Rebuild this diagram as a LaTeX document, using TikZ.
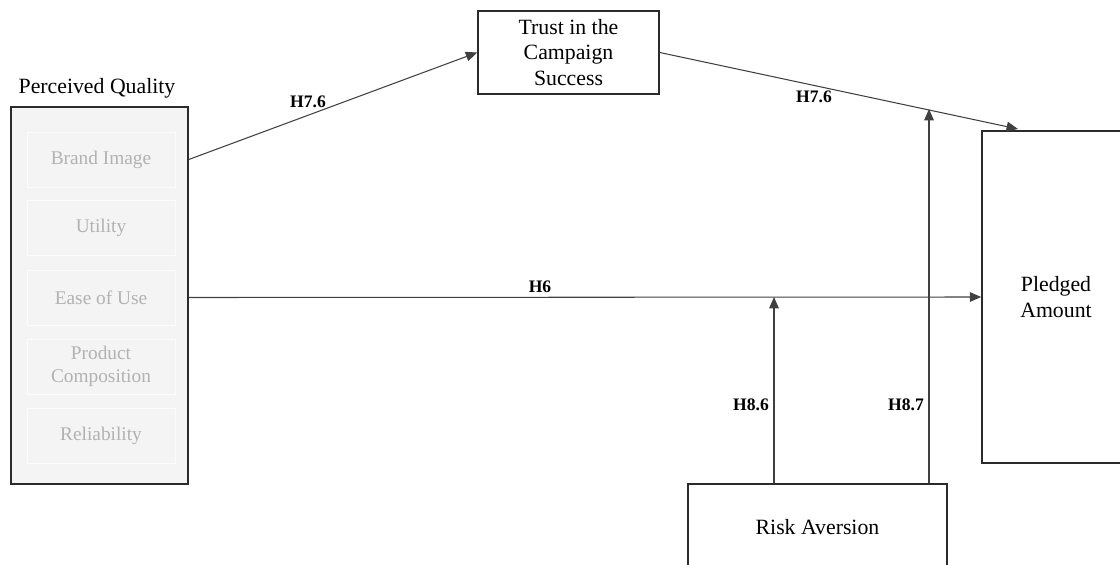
\documentclass[tikz,border=0pt]{standalone}
\usepackage{fontspec}
\setmainfont{Liberation Serif}
\usetikzlibrary{arrows.meta}
\definecolor{qualfill}{HTML}{F4F4F4}
\definecolor{itemgray}{HTML}{B2B2B2}
\definecolor{boxline}{HTML}{2B2B2B}
\definecolor{arrowline}{HTML}{404040}

\begin{document}
\begin{tikzpicture}[x=0.02cm,y=-0.02cm]

    \tikzset{varbox/.style={draw=boxline,line width=0.9pt,align=center,font=\fontsize{12.4}{14.5}\selectfont},
             itembox/.style={draw=white!70!qualfill,line width=0.4pt,minimum width=2.96cm,minimum height=1.1cm,align=center,text=itemgray,font=\fontsize{11}{13}\selectfont},
             hyplabel/.style={font=\fontsize{10}{12}\selectfont\bfseries}}
    \useasboundingbox (0,0) rectangle (1120,565);
    \clip (0,0) rectangle (1120,565);

    \node[font=\fontsize{12.4}{14.5}\selectfont] (pqtitle) at (97,88) {Perceived Quality};
    \node[varbox,fill=qualfill,minimum width=3.54cm,minimum height=7.54cm] (pq) at (99.5,295.5) {};
    \node[itembox] (bi) at (101,159.5) {Brand Image};
    \node[itembox] (ut) at (101,228) {Utility};
    \node[itembox] (eu) at (101,297.5) {Ease of Use};
    \node[itembox] (pc) at (101,366.5) {Product\\Composition};
    \node[itembox] (rl) at (101,436) {Reliability};

    \node[varbox,minimum width=3.62cm,minimum height=1.66cm] (trust) at (568.5,52.5) {Trust in the\\Campaign\\Success};
    \node[varbox,minimum width=2.96cm,minimum height=6.64cm] (pledged) at (1056,297) {Pledged\\Amount};
    \node[varbox,minimum width=5.18cm,minimum height=1.72cm] (risk) at (817.5,527) {Risk Aversion};

    \coordinate (pin) at (1018,129);
    \coordinate (m6) at (774,297);
    \coordinate (m7) at (929,109);

    \begin{scope}[every path/.style={-{Triangle[length=6.5pt,width=5.5pt]},draw=arrowline,line width=0.6pt}]
        \draw (pq.east |- bi) -- (trust.west);
        \draw (trust.east) -- (pin);
        \draw (pq.east |- eu) -- (pledged.west);
        \draw (risk.north -| m6) -- (m6);
        \draw (risk.north -| m7) -- (m7);
    \end{scope}

    \node[hyplabel] (h76a) at (308,102) {H7.6};
    \node[hyplabel] (h76b) at (814,97) {H7.6};
    \node[hyplabel] (h6) at (540,287) {H6};
    \node[hyplabel] (h86) at (751,405) {H8.6};
    \node[hyplabel] (h87) at (906,405) {H8.7};
\end{tikzpicture}
\end{document}
